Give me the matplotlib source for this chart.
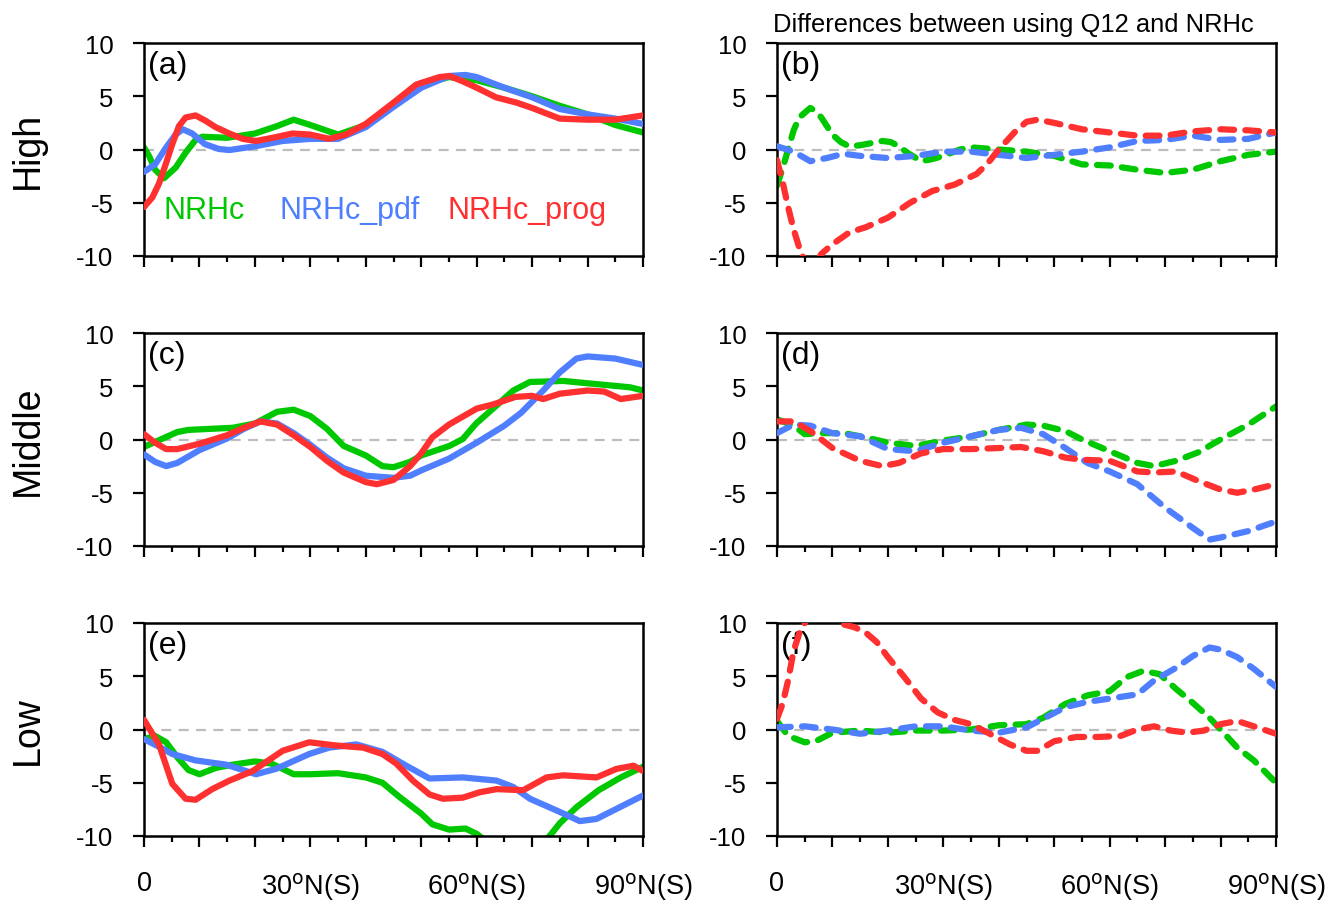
import matplotlib
matplotlib.use("Agg")
import matplotlib.pyplot as plt

plt.rcParams['font.family'] = ['Liberation Sans', 'DejaVu Sans']

# ---------------- data ----------------
# panel (a) High, totals
a_nrhc_x = [0, 1, 2, 3.6, 5.7, 7.5, 9.3, 10.5, 15, 20, 24, 27, 30, 35, 40, 45, 50, 55, 60, 65, 70, 75, 80, 85, 90]
a_nrhc_y = [0.2, -0.7, -1.9, -2.7, -1.7, -0.3, 0.9, 1.2, 1.1, 1.5, 2.2, 2.8, 2.3, 1.4, 2.3, 4.1, 6.1, 6.8, 6.5, 5.8, 5.0, 4.1, 3.3, 2.3, 1.6]
a_pdf_x = [0, 2, 4, 5.7, 7, 8.7, 11, 13.5, 15.4, 20, 25, 30, 35, 40, 45, 50, 55, 58, 60, 65, 70, 75, 80, 85, 90]
a_pdf_y = [-2.1, -1.4, 0.2, 1.4, 1.9, 1.5, 0.5, 0.05, -0.05, 0.3, 0.8, 1.0, 1.0, 2.1, 4.0, 5.8, 6.9, 7.0, 6.8, 5.8, 4.9, 3.8, 3.3, 2.9, 2.4]
a_prog_x = [0, 1.5, 2.7, 3.9, 5.1, 6.3, 7.5, 9.3, 11.1, 12.9, 15.4, 17.8, 20.2, 23.2, 26.8, 30, 33.4, 36.4, 40, 45, 49.1, 53.3, 55.1, 57.5, 60, 63.5, 67.2, 70, 75, 80, 85, 90]
a_prog_y = [-5.4, -4.5, -3.2, -1.4, 0.5, 2.2, 3.0, 3.2, 2.7, 2.1, 1.5, 1.0, 0.8, 1.1, 1.5, 1.4, 1.0, 1.4, 2.4, 4.4, 6.1, 6.8, 6.9, 6.4, 5.8, 4.9, 4.4, 3.9, 2.9, 2.8, 2.8, 3.2]

# panel (b) High, differences
b_nrhc_x = [0, 1, 2, 3, 4, 6, 7, 8, 9, 10, 11.5, 13, 15, 17, 19, 20.5, 22, 23.5, 26, 28, 30, 33, 35, 40, 45, 50, 55, 60, 65, 70, 75, 80, 85, 90]
b_nrhc_y = [-3.4, -1.8, 0, 1.8, 3.0, 3.9, 3.6, 3.0, 2.2, 1.4, 0.7, 0.3, 0.4, 0.6, 0.8, 0.7, 0.3, -0.3, -1.1, -0.9, -0.6, 0, 0.2, 0, -0.2, -0.6, -1.4, -1.5, -1.9, -2.2, -1.9, -1.1, -0.5, -0.2]
b_pdf_x = [0, 3, 6, 9, 12, 15, 20, 25, 30, 35, 40, 45, 50, 55, 60, 65, 70, 75, 80, 85, 90]
b_pdf_y = [0.3, -0.2, -1.1, -0.8, -0.4, -0.6, -0.8, -0.6, -0.2, -0.2, -0.5, -0.8, -0.5, -0.2, 0.2, 0.8, 0.9, 1.3, 0.9, 1.0, 1.6]
b_prog_x = [0, 1, 2, 3, 4, 5, 6, 7, 8, 10, 13, 16, 20, 24, 28, 32, 36, 38, 40, 43, 45, 47, 50, 55, 60, 65, 70, 75, 80, 85, 90]
b_prog_y = [-1.0, -3.0, -5.4, -7.5, -9.2, -10.5, -11.0, -10.8, -9.8, -8.9, -7.8, -7.3, -6.4, -5.0, -3.9, -3.3, -2.3, -1.3, 0, 1.7, 2.6, 2.8, 2.5, 1.9, 1.6, 1.3, 1.3, 1.7, 1.9, 1.8, 1.6]

# panel (c) Middle, totals
c_nrhc_x = [0, 3, 6, 8, 12, 16, 20, 24, 27, 30, 33, 36, 40, 43, 45, 48, 50, 55.1, 57.5, 59.9, 63.6, 66.6, 69.6, 75.6, 81.6, 87.7, 90]
c_nrhc_y = [-0.7, 0, 0.7, 0.9, 1.0, 1.1, 1.5, 2.6, 2.8, 2.2, 1.0, -0.6, -1.5, -2.5, -2.6, -2.1, -1.5, -0.6, 0.05, 1.5, 3.2, 4.6, 5.4, 5.5, 5.2, 4.9, 4.6]
c_pdf_x = [0, 2, 4, 6, 10, 15, 18, 21, 24, 27, 30, 33, 36, 40, 45, 48, 50, 55, 60, 65, 68, 72, 75, 78, 80, 85, 90]
c_pdf_y = [-1.4, -2.1, -2.5, -2.2, -1.0, 0.1, 1.0, 1.7, 1.5, 0.6, -0.5, -1.7, -2.7, -3.4, -3.6, -3.4, -2.9, -1.8, -0.3, 1.3, 2.5, 4.6, 6.3, 7.6, 7.8, 7.6, 7.0]
c_prog_x = [0, 2, 4, 6, 10, 15, 18, 21, 24, 27, 30, 33, 36, 40, 42, 45, 48, 50, 52, 55, 58, 60, 63, 67, 70, 72, 75, 80, 83, 86, 90]
c_prog_y = [0.5, -0.3, -0.9, -0.9, -0.4, 0.4, 1.1, 1.7, 1.4, 0.4, -0.7, -2.0, -3.1, -4.0, -4.2, -3.8, -2.5, -1.3, 0.2, 1.4, 2.3, 2.9, 3.3, 4.0, 4.1, 3.8, 4.3, 4.6, 4.5, 3.8, 4.1]

# panel (d) Middle, differences
d_nrhc_x = [0, 3, 5, 8, 12, 16, 20, 25, 30, 35, 40, 45, 48, 52, 55, 60, 65, 68, 72, 76, 80, 85, 90]
d_nrhc_y = [1.9, 1.3, 0.5, 0.6, 0.6, 0.2, -0.3, -0.6, -0.1, 0.3, 0.9, 1.4, 1.3, 0.8, 0, -1.1, -2.2, -2.5, -2.0, -1.2, 0, 1.4, 3.1]
d_pdf_x = [0, 3, 6, 10, 15, 20, 25, 30, 35, 40, 44, 48, 52, 56, 60, 65, 70, 75, 78, 80, 85, 90]
d_pdf_y = [0.6, 1.4, 1.3, 0.6, 0.3, -0.9, -1.1, -0.3, 0.3, 0.9, 1.1, 0.5, -0.8, -2.2, -3.0, -4.2, -6.4, -8.3, -9.4, -9.2, -8.6, -7.7]
d_prog_x = [0, 3, 6, 10, 15, 19, 22, 26, 30, 35, 40, 44, 48, 52, 55, 60, 65, 68, 72, 76, 80, 83, 86, 90]
d_prog_y = [1.7, 1.7, 0.8, -0.8, -2.0, -2.5, -2.2, -1.3, -0.9, -0.9, -0.8, -0.7, -1.1, -1.7, -1.9, -2.0, -3.0, -3.1, -3.0, -3.9, -4.7, -5.0, -4.7, -4.2]

# panel (e) Low, totals
e_nrhc_x = [0, 2, 4, 6, 8, 10, 13, 16, 20, 23, 27, 30, 35, 40, 43, 46, 50, 52, 55, 58, 60, 62, 65, 69, 73, 75, 78, 82, 86, 90]
e_nrhc_y = [-0.9, -0.6, -1.2, -2.6, -3.8, -4.2, -3.6, -3.3, -3.0, -3.2, -4.2, -4.2, -4.1, -4.5, -5.0, -6.3, -7.9, -8.9, -9.4, -9.3, -9.8, -10.6, -11.5, -11.8, -10.1, -8.8, -7.3, -5.7, -4.5, -3.5]
e_pdf_x = [0, 3, 5.1, 9.3, 14.8, 20.2, 23.8, 29.8, 33.4, 38.3, 43, 47.3, 51.5, 57.5, 63.6, 66.6, 69.6, 74.4, 78.6, 81.6, 85.8, 90]
e_pdf_y = [-0.9, -1.7, -2.3, -2.9, -3.3, -4.2, -3.7, -2.3, -1.7, -1.4, -2.1, -3.4, -4.6, -4.5, -4.8, -5.4, -6.5, -7.6, -8.6, -8.4, -7.3, -6.2]
e_prog_x = [0, 2.7, 5.1, 7.5, 9.3, 12.3, 15.4, 19.6, 25, 29.8, 34.6, 39.5, 43, 45.5, 48.5, 51.5, 53.9, 57.5, 60.5, 63.6, 68.4, 72.6, 75.6, 81.6, 85.2, 88.3, 90]
e_prog_y = [0.9, -1.4, -5.1, -6.5, -6.6, -5.6, -4.8, -3.9, -2.0, -1.2, -1.5, -1.7, -2.3, -3.2, -4.8, -6.1, -6.5, -6.4, -5.9, -5.6, -5.7, -4.5, -4.3, -4.5, -3.7, -3.4, -3.9]

# panel (f) Low, differences
f_nrhc_x = [0, 2, 5, 7, 10, 15, 20, 25, 30, 35, 40, 45, 48, 52, 56, 60, 63, 66, 69, 72, 75, 78, 80, 83, 86, 90]
f_nrhc_y = [0.8, -0.6, -1.2, -1.1, -0.3, -0.1, -0.3, -0.1, -0.1, 0, 0.4, 0.5, 1.1, 2.4, 3.2, 3.6, 4.9, 5.5, 5.2, 3.8, 2.5, 1.1, 0, -1.7, -2.9, -5.0]
f_pdf_x = [0, 5, 10, 15, 20, 25, 30, 35, 40, 45, 48, 52, 56, 60, 65, 68, 72, 75, 78, 80, 83, 86, 90]
f_pdf_y = [0.2, 0.3, 0, -0.4, -0.1, 0.3, 0.3, -0.1, -0.3, 0.2, 1.0, 2.1, 2.6, 2.9, 3.3, 4.6, 5.8, 6.9, 7.7, 7.5, 6.8, 5.7, 4.0]
f_prog_x = [0, 1, 2, 3, 4, 5, 6, 8, 10, 11, 14, 16, 18, 20, 23, 26, 29, 32, 35, 38, 42, 45, 47, 50, 54, 58, 62, 65, 68, 71, 74, 77, 80, 83, 86, 90]
f_prog_y = [1.0, 2.4, 4.6, 7.4, 9.0, 10.0, 10.8, 11.2, 10.6, 10.0, 9.6, 9.1, 8.2, 6.8, 4.9, 2.9, 1.6, 0.9, 0.5, -0.3, -1.4, -2.0, -2.0, -1.1, -0.7, -0.7, -0.6, 0, 0.3, -0.1, -0.3, -0.1, 0.5, 0.8, 0.3, -0.4]

series_names = ['NRHc', 'NRHc_pdf', 'NRHc_prog']
colors = ['#00C800', '#4F7FFF', '#FF3030']
row_labels = ['High', 'Middle', 'Low']
panel_labels = ['(a)', '(b)', '(c)', '(d)', '(e)', '(f)']
xtick_vals = [0, 30, 60, 90]
xtick_labels = ['0', r'30$^{\mathrm{o}}$N(S)', r'60$^{\mathrm{o}}$N(S)', r'90$^{\mathrm{o}}$N(S)']
yticks = [-10, -5, 0, 5, 10]
right_title = 'Differences between using Q12 and NRHc'

panels = [
    [(a_nrhc_x, a_nrhc_y), (a_pdf_x, a_pdf_y), (a_prog_x, a_prog_y)],
    [(b_nrhc_x, b_nrhc_y), (b_pdf_x, b_pdf_y), (b_prog_x, b_prog_y)],
    [(c_nrhc_x, c_nrhc_y), (c_pdf_x, c_pdf_y), (c_prog_x, c_prog_y)],
    [(d_nrhc_x, d_nrhc_y), (d_pdf_x, d_pdf_y), (d_prog_x, d_prog_y)],
    [(e_nrhc_x, e_nrhc_y), (e_pdf_x, e_pdf_y), (e_prog_x, e_prog_y)],
    [(f_nrhc_x, f_nrhc_y), (f_pdf_x, f_pdf_y), (f_prog_x, f_prog_y)],
]

# ---------------- layout ----------------
W, H = 1338, 903
fig = plt.figure(figsize=(W / 100, H / 100), dpi=100)

col_left = [144, 777]
col_width = [499, 499]
row_top = [44, 334, 624]
row_h = 213

FS = 18.5
LW = 4.5
for i in range(6):
    r, c = divmod(i, 2)
    ax = fig.add_axes([col_left[c] / W, 1 - (row_top[r] + row_h) / H,
                       col_width[c] / W, row_h / H])
    ax.axhline(0, color='#BDBDBD', lw=1.6, ls=(0, (4.5, 3.3)), zorder=1)
    for k, (xs, ys) in enumerate(panels[i]):
        if c == 0:
            ax.plot(xs, ys, color=colors[k], lw=LW, solid_capstyle='round',
                    solid_joinstyle='round', zorder=2 + k)
        else:
            ax.plot(xs, ys, color=colors[k], lw=LW, ls=(0, (2.2, 1.8)),
                    dash_capstyle='round', dash_joinstyle='round', zorder=2 + k)
    ax.set_xlim(0, 90)
    ax.set_ylim(-10, 10)
    ax.set_yticks(yticks)
    ax.set_yticklabels([str(v) for v in yticks], fontsize=FS)
    ax.set_xticks(range(0, 91, 10))
    ax.set_xticks(range(5, 91, 10), minor=True)
    ax.tick_params(axis='x', which='major', length=8, width=1.6, direction='out',
                   labelbottom=False)
    ax.tick_params(axis='x', which='minor', length=4, width=1.6, direction='out')
    ax.tick_params(axis='y', which='major', length=8, width=1.6, direction='out', pad=14)
    for s in ax.spines.values():
        s.set_linewidth(1.8)
    ax.text(0.008, 0.965, panel_labels[i], transform=ax.transAxes, fontsize=23,
            va='top', ha='left')
    if r == 2:
        for xv, lab in zip(xtick_vals, xtick_labels):
            ax.text(xv, -0.16, lab, transform=ax.get_xaxis_transform(),
                    ha='center', va='top', fontsize=19.5)
    if c == 0:
        fig.text(28 / W, 1 - (row_top[r] + row_h / 2) / H, row_labels[r],
                 rotation=90, ha='center', va='center', fontsize=27)
    if i == 0:
        for k, (name, xf) in enumerate(zip(series_names, [0.04, 0.271, 0.608])):
            ax.text(xf, 0.215, name, transform=ax.transAxes, color=colors[k],
                    fontsize=22, va='center', ha='left')

fig.text(773 / W, 1 - 25 / H, right_title, ha='left', va='center', fontsize=18.4)

fig.savefig('out.png', dpi=100)
